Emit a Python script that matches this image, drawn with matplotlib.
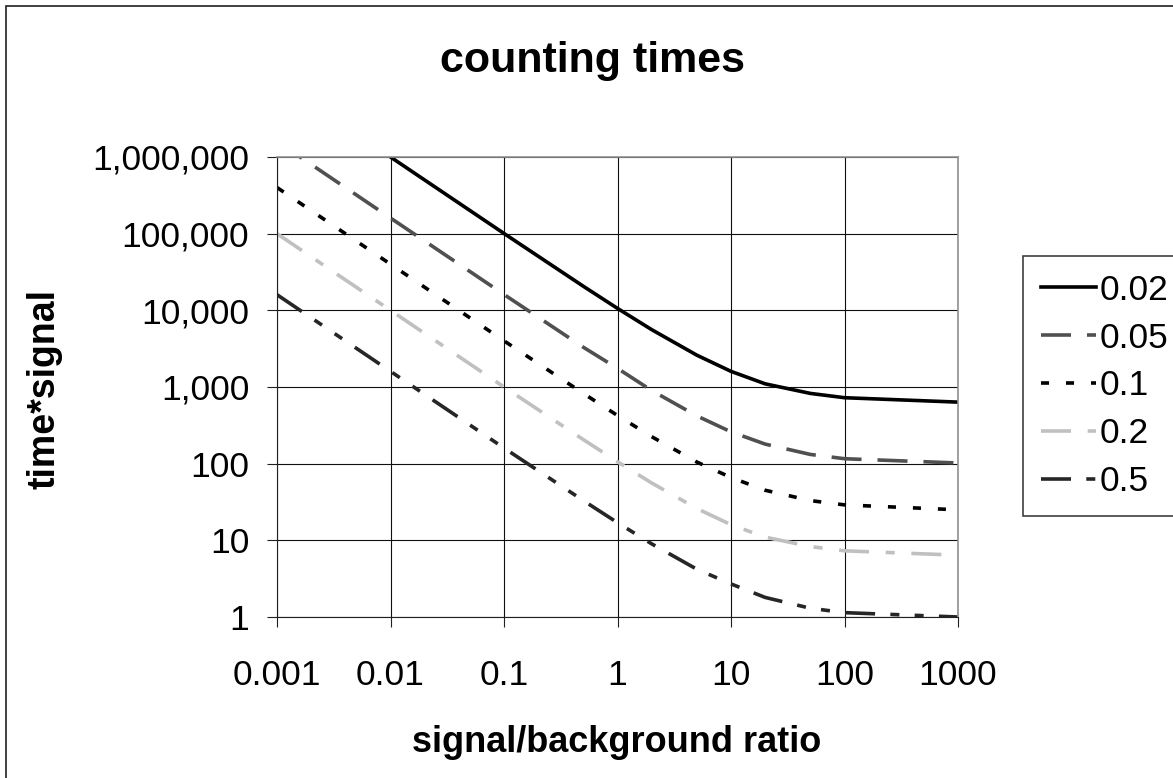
import matplotlib
matplotlib.use("Agg")
import matplotlib.pyplot as plt
from matplotlib.patches import Rectangle
from matplotlib.ticker import FixedLocator, FuncFormatter, NullLocator

plt.rcParams['font.family'] = ['Liberation Sans', 'DejaVu Sans']
plt.rcParams['lines.scale_dashes'] = False

# signal/background ratio
ratio = [0.001, 0.01, 0.1, 0.5, 1, 2, 5, 10, 20, 50, 100, 1000]

# time*signal for each relative error
t_002 = [10000000, 1000000, 100600, 20600, 10600, 5600, 2600, 1600, 1100, 825, 725, 635]
t_005 = [1600000, 160000, 16100, 3300, 1750, 900, 420, 260, 180, 132, 116, 102]
t_01 = [400000, 40000, 4000, 825, 425, 225, 105, 66, 45, 33, 29, 25]
t_02 = [100000, 10000, 1000, 206, 106, 56, 26, 16, 11, 8.3, 7.3, 6.4]
t_05 = [16000, 1600, 160, 33, 17, 9, 4.2, 2.7, 1.8, 1.3, 1.14, 1.0]

labels = ["0.02", "0.05", "0.1", "0.2", "0.5"]
series = [t_002, t_005, t_01, t_02, t_05]
colors = ['#000000', '#505050', '#000000', '#c0c0c0', '#262626']
# dash patterns in points
styles = [
    '-',
    (0, (21.6, 11.5)),
    (0, (5.8, 12.2)),
    (0, (21.6, 12.0, 6.5, 12.0)),
    (0, (21.6, 11.0, 6.5, 11.0, 6.5, 11.0)),
]

fig = plt.figure(figsize=(11.73, 7.78), dpi=100)
ax = fig.add_axes([277 / 1173, 1 - 617 / 778, 681 / 1173, 460 / 778])

for vals, label, color, ls in zip(series, labels, colors, styles):
    ax.plot(ratio, vals, label=label, color=color, linestyle=ls, linewidth=2.6)

ax.set_xscale('log')
ax.set_yscale('log')
ax.set_xlim(0.001, 1000)
ax.set_ylim(1, 1000000)

xticks = [0.001, 0.01, 0.1, 1, 10, 100, 1000]
yticks = [1, 10, 100, 1000, 10000, 100000, 1000000]
ax.xaxis.set_major_locator(FixedLocator(xticks))
ax.yaxis.set_major_locator(FixedLocator(yticks))
ax.xaxis.set_minor_locator(NullLocator())
ax.yaxis.set_minor_locator(NullLocator())
ax.xaxis.set_major_formatter(FuncFormatter(lambda v, p: f"{v:g}"))
ax.yaxis.set_major_formatter(FuncFormatter(lambda v, p: f"{v:,.0f}"))
ax.tick_params(axis='both', direction='out', length=7, width=0.8,
               labelsize=25.5, color='#202020')
ax.tick_params(axis='y', pad=13)
ax.tick_params(axis='x', pad=23)

ax.grid(True, which='major', color='#101010', linewidth=0.8)
ax.set_axisbelow(True)
for side in ['top', 'right']:
    ax.spines[side].set_color('#909090')
    ax.spines[side].set_linewidth(1.2)
for side in ['left', 'bottom']:
    ax.spines[side].set_color('#202020')
    ax.spines[side].set_linewidth(0.8)

fig.text(593 / 1173, 1 - 61 / 778, 'counting times', fontsize=31,
         fontweight='bold', ha='center', va='center')
fig.text(45 / 1173, 1 - 389 / 778, 'time*signal', fontsize=27,
         fontweight='bold', ha='center', va='center', rotation=90)
fig.text(617 / 1173, 1 - 743 / 778, 'signal/background ratio', fontsize=26,
         fontweight='bold', ha='center', va='center')

leg = ax.legend(loc='upper left', bbox_to_anchor=(1023 / 1173, 1 - 256 / 778),
                bbox_transform=fig.transFigure, fontsize=25.5, frameon=True,
                fancybox=False, framealpha=1, edgecolor='#404040',
                handlelength=1.55, handletextpad=0.12, labelspacing=0.42,
                borderpad=0.5, borderaxespad=0)
leg.get_frame().set_linewidth(1.2)
leg.set_clip_on(False)

# outer chart border (only left and top visible in the original)
fig.patches.append(Rectangle((6 / 1173, -0.5), 2, 1 - 6 / 778 + 0.5,
                             transform=fig.transFigure, fill=False,
                             edgecolor='#202020', linewidth=1.2))

fig.savefig('out.png', dpi=100)
